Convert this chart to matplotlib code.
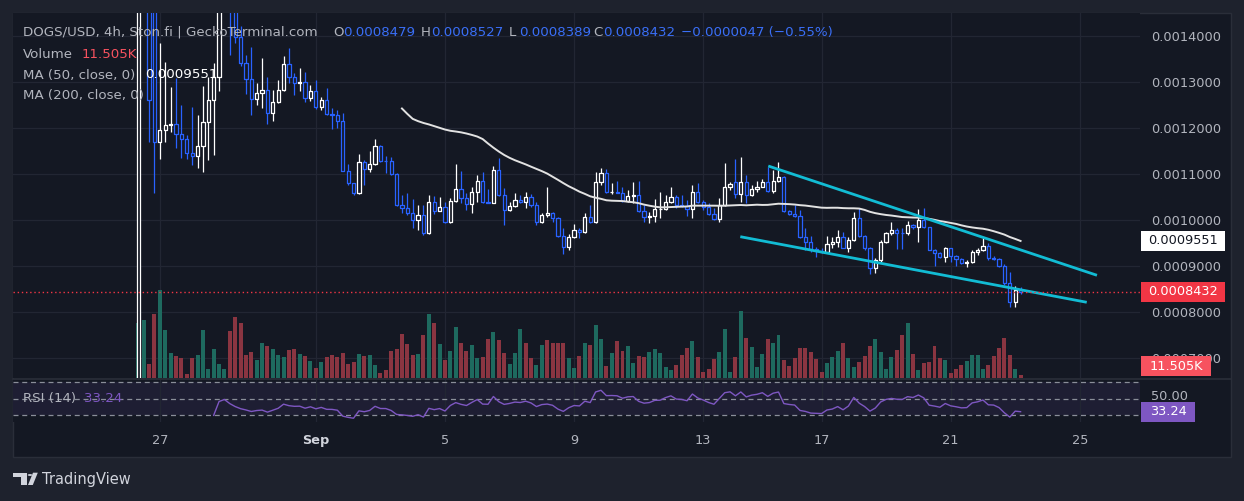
import numpy as np
import matplotlib
matplotlib.use("Agg")
import matplotlib.pyplot as plt
from matplotlib.patches import Rectangle, Polygon, Circle
from matplotlib.collections import LineCollection, PatchCollection
from matplotlib.transforms import ScaledTranslation

# ---------------- data (prices in units of 1e-7 USD, 4h bars) ----------------
SCALE = 1e-7
opens = [6000, 14600, 15400, 14800, 11689, 11950, 12059, 12080, 11863, 11754,
         11450, 11385, 11602, 12124, 12602, 13102, 15200, 15600, 14700, 13972,
         13406, 13052, 12617, 12761, 12820, 12313, 12565, 12819, 13385, 13095,
         12978, 12993, 12639, 12798, 12456, 12602, 12291, 12280, 12152, 11065,
         10791, 10587, 11248, 11095, 11211, 11602, 11276, 11270, 10987, 10319,
         10248, 10139, 9993, 10102, 9717, 10378, 10195, 10282, 9956, 10406,
         10661, 10465, 10335, 10595, 10848, 10378, 10360, 11080, 10537, 10211,
         10298, 10421, 10378, 10487, 10319, 9956, 10102, 10139, 10030, 9652,
         9400, 9630, 9776, 9739, 10052, 9943, 10826, 11009, 10595, 10608,
         10587, 10406, 10515, 10537, 10195, 10052, 10090, 10226, 10235, 10391,
         10500, 10319, 10298, 10226, 10608, 10391, 10276, 10124, 10015, 10319,
         10704, 10826, 10552, 10826, 10537, 10661, 10717, 10826, 10630, 10841,
         10921, 10195, 10124, 10080, 9617, 9521, 9356, 9326, 9308, 9465,
         9508, 9617, 9391, 9559, 10030, 9645, 9378, 8943, 9124, 9521,
         9704, 9776, 9717, 9704, 9885, 9835, 9993, 9835, 9341, 9269,
         9182, 9378, 9211, 9145, 9065, 9075, 9291, 9341, 9428, 9161,
         9145, 8993, 8617, 8217, 8479]
highs = [16500, 16000, 16000, 16000, 13841, 13428, 12885, 13080, 12493, 11841,
         12450, 12276, 12906, 13102, 13406, 15800, 16200, 16000, 15000, 14200,
         13580, 13754, 12972, 13515, 13102, 12820, 13037, 13559, 13733, 13189,
         13298, 13211, 12928, 13037, 12667, 12863, 12428, 12385, 12319, 11211,
         10798, 11428, 11298, 11493, 11754, 11624, 11385, 11363, 11015, 10537,
         10580, 10450, 10319, 10319, 10537, 10515, 10500, 10391, 10471, 11211,
         11065, 10574, 10717, 10978, 11043, 10661, 11167, 11335, 10682, 10391,
         10574, 10537, 10608, 10558, 10391, 10139, 10717, 10174, 10052, 9813,
         9682, 9900, 9813, 10152, 10319, 11030, 11130, 11095, 10791, 10841,
         10717, 10646, 10826, 10848, 10319, 10174, 10443, 10608, 10537, 10717,
         10537, 10537, 10428, 10754, 10804, 10428, 10356, 10248, 10465, 11226,
         10826, 11313, 11356, 10972, 10754, 10848, 10878, 11152, 11080, 11261,
         10940, 10211, 10319, 10211, 9813, 9645, 9413, 9384, 9645, 9630,
         9776, 9739, 9617, 10174, 10248, 9667, 9400, 9161, 9559, 9739,
         9956, 9819, 9819, 9978, 9906, 10232, 10248, 9850, 9360, 9290,
         9413, 9384, 9232, 9160, 9124, 9341, 9378, 9595, 9487, 9211,
         9161, 9037, 8869, 8558, 8527]
lows = [5800, 14550, 11689, 10580, 11319, 11689, 11906, 11559, 11341, 11319,
        11189, 11124, 11037, 11298, 11406, 12800, 14900, 13580, 13841, 13341,
        12732, 12276, 12493, 12428, 12080, 12146, 12540, 12800, 12972, 12711,
        12798, 12558, 12580, 12406, 12385, 12276, 11972, 11993, 11059, 10754,
        10537, 10559, 10754, 11037, 11189, 11254, 11015, 10972, 10298, 10145,
        10102, 9819, 9776, 9667, 9689, 10124, 10180, 9935, 9935, 10390,
        10356, 10211, 10152, 10391, 10369, 10356, 10356, 10515, 9885, 10190,
        10282, 10356, 10248, 10282, 9885, 9935, 10052, 9956, 9630, 9247,
        9341, 9595, 9608, 9717, 9922, 9935, 10754, 10574, 10558, 10574,
        10391, 10391, 10356, 10174, 9956, 9935, 9956, 10030, 10211, 10370,
        10248, 10282, 10080, 10030, 10356, 10211, 10102, 9993, 9956, 10300,
        10646, 10465, 10391, 10356, 10520, 10608, 10704, 10608, 10574, 10826,
        10174, 10102, 10065, 9595, 9341, 9304, 9195, 9276, 9290, 9378,
        9413, 9378, 9304, 9537, 9624, 9341, 8819, 8834, 9087, 9487,
        9667, 9356, 9356, 9667, 9798, 9521, 9819, 9330, 8993, 9167,
        9087, 9080, 8993, 9037, 8977, 9052, 9232, 9326, 9124, 9124,
        8977, 8580, 8095, 8108, 8389]
closes = [16000, 15400, 12602, 11689, 11950, 12059, 12080, 11863, 11754, 11450,
          11385, 11602, 12124, 12602, 13102, 15200, 15600, 14700, 13972, 13406,
          13052, 12617, 12761, 12820, 12313, 12565, 12819, 13385, 13095, 12978,
          12993, 12639, 12798, 12456, 12602, 12291, 12280, 12152, 11065, 10791,
          10587, 11248, 11095, 11211, 11602, 11276, 11270, 10987, 10319, 10248,
          10139, 9993, 10102, 9717, 10378, 10195, 10282, 9956, 10406, 10661,
          10465, 10335, 10595, 10848, 10378, 10360, 11080, 10537, 10211, 10298,
          10421, 10378, 10487, 10319, 9956, 10102, 10139, 10030, 9652, 9400,
          9630, 9776, 9739, 10052, 9943, 10826, 11009, 10595, 10608, 10587,
          10406, 10515, 10537, 10195, 10052, 10090, 10226, 10235, 10391, 10500,
          10319, 10298, 10226, 10608, 10391, 10276, 10124, 10015, 10319, 10704,
          10769, 10552, 10826, 10537, 10661, 10717, 10826, 10630, 10841, 10921,
          10195, 10124, 10080, 9617, 9521, 9356, 9326, 9308, 9465, 9508,
          9617, 9391, 9559, 10030, 9645, 9378, 8943, 9124, 9521, 9704,
          9776, 9717, 9704, 9885, 9835, 9993, 9835, 9341, 9269, 9182,
          9378, 9211, 9145, 9065, 9075, 9291, 9341, 9428, 9161, 9145,
          8993, 8617, 8217, 8479, 8432]
volume_k = [209, 220, 53, 243, 334, 182, 95, 84, 76, 15,
            76, 87, 182, 34, 110, 53, 34, 179, 232, 209,
            87, 99, 68, 133, 122, 110, 87, 80, 106, 110,
            91, 84, 65, 38, 61, 80, 87, 80, 95, 53,
            61, 91, 84, 87, 49, 19, 30, 103, 110, 167,
            129, 87, 91, 163, 243, 209, 129, 68, 103, 194,
            133, 103, 125, 76, 80, 148, 175, 144, 95, 53,
            95, 186, 133, 76, 49, 125, 144, 133, 133, 133,
            76, 38, 84, 133, 125, 201, 148, 46, 95, 141,
            103, 122, 57, 84, 80, 99, 110, 95, 42, 30,
            49, 87, 114, 141, 80, 23, 34, 72, 99, 186,
            23, 80, 255, 152, 118, 42, 91, 148, 133, 163,
            68, 46, 76, 114, 114, 99, 72, 23, 57, 80,
            103, 133, 76, 42, 61, 84, 122, 148, 99, 34,
            80, 106, 163, 209, 91, 30, 57, 61, 122, 76,
            68, 19, 34, 49, 65, 87, 87, 34, 49, 84,
            114, 152, 87, 34, 11.505]
volume_up = [1, 1, 0, 0, 1, 1, 1, 0, 0, 0,
             0, 1, 1, 1, 1, 1, 1, 0, 0, 0,
             0, 0, 1, 1, 0, 1, 1, 1, 0, 0,
             1, 0, 1, 0, 1, 0, 0, 0, 0, 0,
             0, 1, 0, 1, 1, 0, 0, 0, 0, 0,
             0, 0, 1, 0, 1, 0, 1, 0, 1, 1,
             0, 0, 1, 1, 0, 0, 1, 0, 0, 1,
             1, 1, 0, 0, 1, 1, 0, 0, 0, 0,
             1, 1, 0, 1, 0, 1, 1, 0, 1, 0,
             0, 1, 1, 0, 0, 1, 1, 1, 1, 1,
             0, 0, 0, 1, 0, 0, 0, 0, 1, 1,
             1, 0, 1, 0, 1, 1, 1, 0, 1, 1,
             0, 0, 0, 0, 0, 0, 0, 0, 1, 1,
             1, 0, 1, 1, 0, 0, 0, 1, 1, 1,
             1, 0, 0, 1, 0, 1, 0, 0, 0, 0,
             1, 0, 0, 0, 1, 1, 1, 1, 0, 0,
             0, 0, 0, 1, 0]

date_tick_bars = [4, 33, 57, 81, 105, 127, 151, 175]
date_tick_labels = ["27", "Sep", "5", "9", "13", "17", "21", "25"]
price_ticks = [0.0007, 0.0008, 0.0009, 0.0010, 0.0011, 0.0012, 0.0013, 0.0014]

upper_trend_bars = [117.1, 178.2]
upper_trend_prices = [0.0011167, 0.0008791]
lower_trend_bars = [111.9, 176.3]
lower_trend_prices = [0.0009630, 0.0008204]

ma_label = "0.0009551"
volume_label = "11.505K"
rsi_label = "33.24"

# ---------------- derived series ----------------
o = np.array(opens) * SCALE
h = np.array(highs) * SCALE
l = np.array(lows) * SCALE
c = np.array(closes) * SCALE
v = np.array(volume_k, dtype=float)
n = len(c)
idx = np.arange(n)

ma50 = np.full(n, np.nan)
for k in range(49, n):
    ma50[k] = c[k - 49:k + 1].mean()

rsi = np.full(n, np.nan)
d = np.diff(c)
g = np.clip(d, 0, None)
ls_ = np.clip(-d, 0, None)
ag, al = g[:14].mean(), ls_[:14].mean()
rsi[14] = 100 - 100 / (1 + ag / al)
for k in range(15, n):
    ag = (ag * 13 + g[k - 1]) / 14
    al = (al * 13 + ls_[k - 1]) / 14
    rsi[k] = 100 - 100 / (1 + ag / al) if al > 0 else 100

# ---------------- style ----------------
OUTER = "#1e222d"
CHART_BG = "#141823"
GRID = "#222633"
TXT = "#b2b5be"
UPC = "#ffffff"
DNC = "#2962ff"
VUP = "#1e6a5f"
VDN = "#8a3541"
CYAN = "#12bcd4"
PURPLE = "#7e57c2"
RED = "#f23645"
FS = 9.3      # scale / axis labels
HFS = 9.6     # legend header

W, H = 1244, 501
fig = plt.figure(figsize=(W / 100, H / 100), dpi=100, facecolor=OUTER)


def fx(px):
    return px / W


def fy(py):
    return 1 - py / H


fig.patches.append(Rectangle((fx(13), fy(457)), (1231 - 13) / W, (457 - 13) / H,
                             transform=fig.transFigure, fc=CHART_BG, ec="#2a2e39",
                             lw=1, zorder=0))

X0, X1 = 13, 1140
main_pos = [fx(X0), fy(378), (X1 - X0) / W, (378 - 13) / H]
rsi_pos = [fx(X0), fy(421.7), (X1 - X0) / W, (421.7 - 379.5) / H]

xlim = (-23.3, 186.2)
ylim = (0.0006558, 0.0014493)

ax_bg = fig.add_axes(main_pos, zorder=1)
ax_bg.set_facecolor(CHART_BG)
ax_bg.set_xlim(*xlim)
ax_bg.set_ylim(*ylim)
ax_bg.set_yticks(price_ticks)
ax_bg.set_yticklabels([f"{p:.7f}" for p in price_ticks])
ax_bg.yaxis.tick_right()
ax_bg.set_xticks(date_tick_bars)
ax_bg.tick_params(axis="y", length=0, pad=8.0, labelsize=FS, labelcolor=TXT)
ax_bg.tick_params(axis="x", length=0, labelbottom=False)
ax_bg.grid(True, color=GRID, lw=0.9)
for s in ax_bg.spines.values():
    s.set_visible(False)

ax_vol = fig.add_axes(main_pos, zorder=2, sharex=ax_bg)
ax_vol.set_facecolor("none")
ax_vol.set_ylim(0, 365 * 3.8)
ax_vol.bar(idx, v, width=0.74, color=[VUP if u else VDN for u in volume_up], linewidth=0)
ax_vol.axis("off")

ax_c = fig.add_axes(main_pos, zorder=3, sharex=ax_bg, sharey=ax_bg)
ax_c.set_facecolor("none")
ax_c.axis("off")

# candles (hollow bodies)
bw = 0.6
segs, segc, rects, rcol = [], [], [], []
for i in range(n):
    col = UPC if c[i] >= o[i] else DNC
    top, bot = max(o[i], c[i]), min(o[i], c[i])
    if h[i] > top:
        segs.append([(i, top), (i, h[i])]); segc.append(col)
    if l[i] < bot:
        segs.append([(i, bot), (i, l[i])]); segc.append(col)
    rects.append(Rectangle((i - bw / 2, bot), bw, max(top - bot, 1e-9)))
    rcol.append(col)
ax_c.add_collection(LineCollection(segs, colors=segc, linewidths=0.9))
ax_c.add_collection(PatchCollection(rects, facecolors=CHART_BG, edgecolors=rcol,
                                    linewidths=0.9))

ax_c.plot(idx, ma50, color="#e2e2e2", lw=1.4)
ax_c.plot(upper_trend_bars, upper_trend_prices, color=CYAN, lw=2.0, solid_capstyle="butt")
ax_c.plot(lower_trend_bars, lower_trend_prices, color=CYAN, lw=2.0, solid_capstyle="butt")
ax_c.axhline(c[-1], color=RED, lw=1.0, ls=(0, (1, 2)))
ax_c.set_xlim(*xlim)
ax_c.set_ylim(*ylim)

# RSI pane
ax_r = fig.add_axes(rsi_pos, zorder=1, sharex=ax_bg)
ax_r.set_facecolor(CHART_BG)
ax_r.set_ylim(21.9, 73.6)
ax_r.axhspan(30, 70, color=PURPLE, alpha=0.10, lw=0)
for lev in (70, 50, 30):
    ax_r.axhline(lev, color="#8a8e99", lw=0.9, ls=(0, (4, 3)))
ax_r.plot(idx, rsi, color=PURPLE, lw=1.0)
ax_r.set_xticks(date_tick_bars)
ax_r.set_xticklabels(date_tick_labels)
ax_r.tick_params(axis="x", length=0, pad=8.5, labelsize=FS, labelcolor=TXT)
for t in ax_r.get_xticklabels():
    if t.get_text() == "Sep":
        t.set_fontweight("bold")
        t.set_color("#d1d4dc")
ax_r.yaxis.tick_right()
ax_r.set_yticks([50])
ax_r.set_yticklabels(["50.00"])
ax_r.tick_params(axis="y", length=0, pad=8.0, labelsize=FS, labelcolor=TXT)
for t in ax_r.get_yticklabels():
    t.set_transform(t.get_transform() + ScaledTranslation(0, 3 / 72, fig.dpi_scale_trans))
ax_r.grid(True, axis="x", color=GRID, lw=0.9)
for s in ax_r.spines.values():
    s.set_visible(False)
ax_r.set_xlim(*xlim)

# separator between panes
fig.add_artist(plt.Line2D([fx(13), fx(1231)], [fy(378.8), fy(378.8)],
                          color="#2a2e39", lw=1.2, transform=fig.transFigure, zorder=4))


# ---------------- price-scale labels ----------------
def data_to_figy(ax, yval):
    return ax.transData.transform((0, yval))[1] / fig.bbox.height


def scale_box(yfrac, text, fc, tc, width=84):
    hgt = 20 / H
    fig.patches.append(Rectangle((fx(1141), yfrac - hgt / 2), width / W, hgt,
                                 transform=fig.transFigure, fc=fc, ec="none", zorder=5))
    fig.text(fx(1141 + width / 2), yfrac, text, color=tc, fontsize=FS,
             ha="center", va="center", zorder=6)


scale_box(data_to_figy(ax_c, ma50[-1]), ma_label, "#ffffff", "#131722")
scale_box(data_to_figy(ax_c, c[-1]), f"{c[-1]:.7f}", RED, "#ffffff")
vol_y = max(data_to_figy(ax_vol, v[-1]), fy(366))
scale_box(vol_y, volume_label, "#f7525f", "#ffffff", width=70)
rsi_y = max(data_to_figy(ax_r, rsi[-1]), fy(411.5))
scale_box(rsi_y, rsi_label, PURPLE, "#ffffff", width=54)

# ---------------- legend / header text ----------------
BLUE_T = "#3a6ff7"
chg = c[-1] - c[-2]
pct = chg / c[-2] * 100
row1 = [(23, "DOGS/USD, 4h, Ston.fi | GeckoTerminal.com", TXT),
        (333, "O", TXT), (343, f"{o[-1]:.7f}", BLUE_T),
        (421, "H", TXT), (431, f"{h[-1]:.7f}", BLUE_T),
        (509, "L", TXT), (519, f"{l[-1]:.7f}", BLUE_T),
        (593, "C", TXT), (603, f"{c[-1]:.7f}", BLUE_T),
        (681, f"{chg:.7f} ({pct:.2f}%)".replace("-", "\u2212"), BLUE_T)]
for xp, s, col in row1:
    fig.text(fx(xp), fy(32.5), s, color=col, fontsize=HFS, ha="left", va="center")
fig.text(fx(23), fy(54), "Volume", color=TXT, fontsize=HFS, va="center")
fig.text(fx(82), fy(54), volume_label, color="#f7525f", fontsize=HFS, va="center")
fig.text(fx(23), fy(75), "MA (50, close, 0)", color=TXT, fontsize=HFS, va="center")
fig.text(fx(145), fy(75), ma_label, color="#ffffff", fontsize=HFS, va="center")
fig.text(fx(23), fy(96), "MA (200, close, 0)", color=TXT, fontsize=HFS, va="center")
fig.text(fx(23), fy(398.5), "RSI (14)", color=TXT, fontsize=HFS, va="center", zorder=6)
fig.text(fx(84), fy(398.5), rsi_label, color=PURPLE, fontsize=HFS, va="center", zorder=6)

# ---------------- TradingView mark ----------------
LOGO = "#d1d4dc"
fig.patches.append(Polygon([(fx(12.7), fy(472.7)), (fx(26.7), fy(472.7)), (fx(26.7), fy(485)),
                            (fx(20.7), fy(485)), (fx(20.7), fy(477.3)), (fx(12.7), fy(477.3))],
                           closed=True, transform=fig.transFigure, fc=LOGO, ec="none", zorder=6))
fig.patches.append(Circle((fx(30.0), fy(475.0)), 2.3 / W, transform=fig.transFigure,
                          fc=LOGO, ec="none", zorder=6))
fig.patches.append(Polygon([(fx(28.0), fy(485)), (fx(32.8), fy(485)), (fx(37.8), fy(472.7)),
                            (fx(33.0), fy(472.7))], closed=True, transform=fig.transFigure,
                           fc=LOGO, ec="none", zorder=6))
fig.text(fx(42), fy(479.5), "TradingView", color=LOGO, fontsize=10.5, va="center", zorder=6)

fig.savefig("out.png", dpi=100, facecolor=OUTER)
